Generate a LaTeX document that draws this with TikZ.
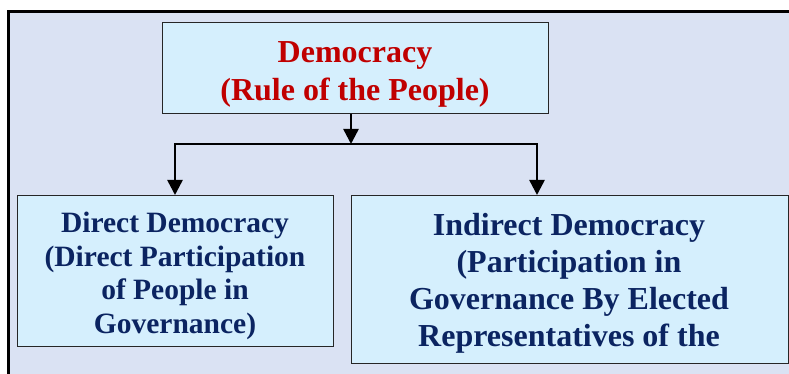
\documentclass[tikz,border=0pt]{standalone}
\usepackage{fontspec}
\setmainfont{Liberation Serif}
\usetikzlibrary{arrows.meta}
\definecolor{bgblue}{HTML}{DAE2F3}
\definecolor{boxfill}{HTML}{D5EFFD}
\definecolor{navy}{HTML}{0B2461}
\definecolor{darkred}{HTML}{C00000}
\tikzset{
  box/.style={draw=black!85, line width=1.4pt, fill=boxfill, anchor=north west, inner sep=0pt},
  toptext/.style={text=darkred, align=center, font=\fontsize{32pt}{37.5pt}\selectfont\bfseries},
  lefttext/.style={text=navy, align=center, font=\fontsize{29.5pt}{33.7pt}\selectfont\bfseries},
  righttext/.style={text=navy, align=center, font=\fontsize{32pt}{36.8pt}\selectfont\bfseries},
  conn/.style={line width=2.5pt, black},
  arr/.style={conn, -{Triangle[width=15pt,length=15pt]}}
}
\begin{document}
\begin{tikzpicture}[x=1pt,y=-1pt]
\useasboundingbox (0,0) rectangle (789,374);
\clip (0,0) rectangle (789,374);
\fill[white] (0,0) rectangle (789,374);
\draw[fill=bgblue, line width=3pt] (8.5,12) rectangle (820,400);
\node[box, minimum width=386pt, minimum height=91pt] (top) at (162,22) {};
\node[box, minimum width=316pt, minimum height=151pt] (left) at (17,195) {};
\node[box, minimum width=437pt, minimum height=168pt] (right) at (351,195) {};
\node[toptext] (toptxt) at (355,74.5) {Democracy\\(Rule of the People)};
\node[lefttext] (lefttxt) at (175,276) {Direct Democracy\\(Direct Participation\\of People in\\Governance)};
\node[righttext] (righttxt) at (569,283.5) {Indirect Democracy\\(Participation in\\Governance By Elected\\Representatives of the};
\coordinate (j) at (351,144);
\coordinate (jl) at (175,144);
\coordinate (jr) at (537,144);
\draw[arr] (top.south -| j) -- (j);
\draw[conn, line cap=rect] (jl) -- (jr);
\draw[arr] (jl) -- (left.north -| jl);
\draw[arr] (jr) -- (right.north -| jr);
\end{tikzpicture}
\end{document}
